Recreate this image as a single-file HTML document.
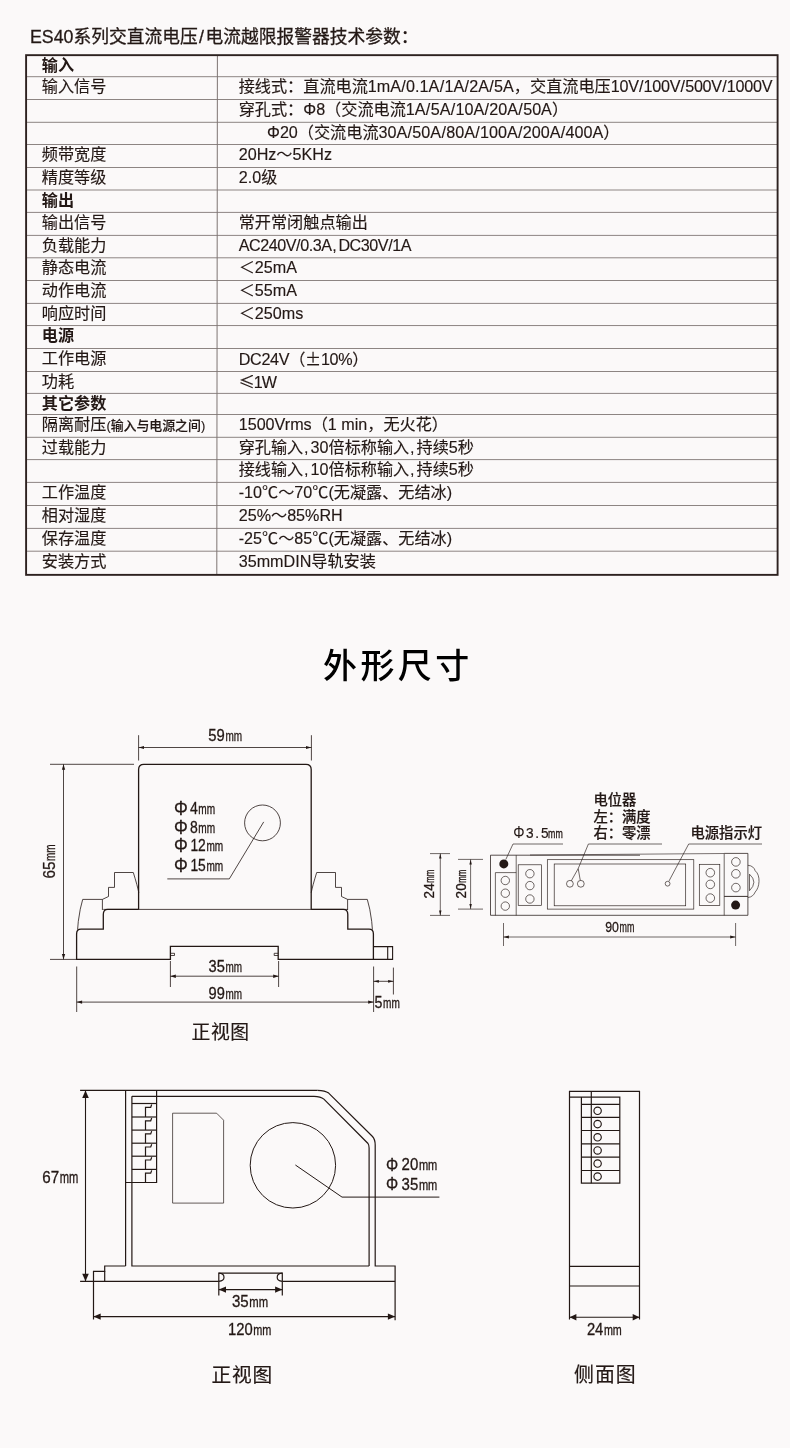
<!DOCTYPE html>
<html lang="zh-CN"><head><meta charset="utf-8"><title>ES40</title>
<style>
html,body{margin:0;padding:0;}
body{width:790px;height:1448px;background:#fbf9f9;position:relative;overflow:hidden;
font-family:"Liberation Sans","Noto Sans CJK SC",sans-serif;color:#231815;}
.cjk{font-family:"Noto Sans CJK SC","Liberation Sans",sans-serif;}
h1{position:absolute;left:30px;top:23.5px;margin:0;font-size:17.75px;font-weight:400;line-height:26px;white-space:nowrap;letter-spacing:0;-webkit-text-stroke:0.3px #231815}
.row{position:absolute;left:0;width:790px;height:22.6px;line-height:23px;font-size:16.15px;white-space:nowrap;-webkit-text-stroke:0.15px #231815}
.row.b{font-weight:700;-webkit-text-stroke:0}
.row .l{position:absolute;left:41.8px;top:1px}
.row .r{position:absolute;left:238.7px;top:1px}
.row i{font-style:normal;margin:0 0.3px}
.row u{text-decoration:none;margin:0 2px 0 0.8px}
.row .r.ind{left:267px}
.row small{font-size:12.9px;font-weight:500;letter-spacing:0;font-family:"Liberation Sans","Noto Sans CJK SC",sans-serif}
h2{position:absolute;left:323.4px;top:640.5px;margin:0;white-space:nowrap;font-size:34px;font-weight:500;line-height:50px;letter-spacing:3.4px;color:#000}
svg{position:absolute;left:0;top:0}
.row,h1,h2,svg{will-change:transform}
</style></head><body>
<h1>ES40系列交直流电压<span style="margin:0 1.6px 0 1.4px">/</span>电流越限报警器技术参数：</h1>
<div class="row b" style="top:52.66px"><span class="l">输入</span><span class="r"></span></div>
<div class="row" style="top:74.20px"><span class="l">输入信号</span><span class="r">接线式：直流电流1mA<i>/</i>0.1A<i>/</i>1A<i>/</i>2A<i>/</i>5A，交直流电压<span style="letter-spacing:-0.24px">10V<i>/</i>100V<i>/</i>500V<i>/</i>1000V</span></span></div>
<div class="row" style="top:97.00px"><span class="l"></span><span class="r">穿孔式：Φ8（交流电流1A<i>/</i>5A<i>/</i>10A<i>/</i>20A<i>/</i>50A）</span></div>
<div class="row" style="top:119.80px"><span class="l"></span><span class="r ind">Φ20（交流电流30A<i>/</i>50A<i>/</i>80A<i>/</i>100A<i>/</i>200A<i>/</i>400A）</span></div>
<div class="row" style="top:142.00px"><span class="l">频带宽度</span><span class="r">20Hz～5KHz</span></div>
<div class="row" style="top:165.00px"><span class="l">精度等级</span><span class="r">2.0级</span></div>
<div class="row b" style="top:187.50px"><span class="l">输出</span><span class="r"></span></div>
<div class="row" style="top:209.90px"><span class="l">输出信号</span><span class="r">常开常闭触点输出</span></div>
<div class="row" style="top:232.90px"><span class="l">负载能力</span><span class="r"><span style="letter-spacing:-0.45px">AC240V/0.3A<u>,</u>DC30V/1A</span></span></div>
<div class="row" style="top:255.30px"><span class="l">静态电流</span><span class="r">＜25mA</span></div>
<div class="row" style="top:278.00px"><span class="l">动作电流</span><span class="r">＜55mA</span></div>
<div class="row" style="top:300.90px"><span class="l">响应时间</span><span class="r">＜250ms</span></div>
<div class="row b" style="top:323.05px"><span class="l">电源</span><span class="r"></span></div>
<div class="row" style="top:346.00px"><span class="l">工作电源</span><span class="r"><span style="letter-spacing:-0.3px">DC24V（<span class="cjk">±</span>10%）</span></span></div>
<div class="row" style="top:369.00px"><span class="l">功耗</span><span class="r"><span style="letter-spacing:-1px"><span class="cjk">≤</span>1W</span></span></div>
<div class="row b" style="top:390.90px"><span class="l">其它参数</span><span class="r"></span></div>
<div class="row" style="top:412.00px"><span class="l">隔离耐压<small>(输入与电源之间)</small></span><span class="r">1500Vrms（1 min，无火花）</span></div>
<div class="row" style="top:434.80px"><span class="l">过载能力</span><span class="r">穿孔输入<u>,</u>30倍标称输入<u>,</u>持续5秒</span></div>
<div class="row" style="top:457.10px"><span class="l"></span><span class="r">接线输入<u>,</u>10倍标称输入<u>,</u>持续5秒</span></div>
<div class="row" style="top:479.90px"><span class="l">工作温度</span><span class="r">-10℃～70℃(无凝露、无结冰)</span></div>
<div class="row" style="top:503.00px"><span class="l">相对湿度</span><span class="r">25%～85%RH</span></div>
<div class="row" style="top:525.90px"><span class="l">保存温度</span><span class="r">-25℃～85℃(无凝露、无结冰)</span></div>
<div class="row" style="top:548.70px"><span class="l">安装方式</span><span class="r">35mmDIN导轨安装</span></div>
<svg class="tbl" width="790" height="600" viewBox="0 0 790 600"><g stroke="#8d8583" stroke-width="1" fill="none"><path d="M27,76.70 H777"/><path d="M27,99.50 H777"/><path d="M27,122.30 H777"/><path d="M27,144.50 H777"/><path d="M27,167.50 H777"/><path d="M27,190.00 H777"/><path d="M27,212.40 H777"/><path d="M27,235.40 H777"/><path d="M27,257.80 H777"/><path d="M27,280.50 H777"/><path d="M27,303.40 H777"/><path d="M27,325.55 H777"/><path d="M27,348.50 H777"/><path d="M27,371.50 H777"/><path d="M27,393.40 H777"/><path d="M27,414.50 H777"/><path d="M27,437.30 H777"/><path d="M27,459.60 H777"/><path d="M27,482.40 H777"/><path d="M27,505.50 H777"/><path d="M27,528.40 H777"/><path d="M27,551.20 H777"/><path d="M217.4,56 L216.8,574" stroke="#7d7472"/></g><rect x="26.1" y="55.16" width="751.5" height="519.7" fill="none" stroke="#2d2220" stroke-width="1.9"/></svg>

<h2>外形尺寸</h2>
<svg width="790" height="1448" viewBox="0 0 790 1448" font-family="Liberation Sans, sans-serif" fill="#231815" stroke-linejoin="miter">
<path d="M138.6,909.4 L138.6,769.5 Q138.6,764.3 143.8,764.3 L306.0,764.3 Q311.2,764.3 311.2,769.5 L311.2,909.4" fill="none" stroke="#231815" stroke-width="1.3"/>
<path d="M138.6,909.4 L107.8,909.4 Q103.3,909.4 103.3,914.5 L103.3,929.2 L81,929.2 Q76.6,929.2 76.6,934 L76.6,959.4 L170.4,959.4 L170.4,946.3 L278.2,946.3 L278.2,959.4 L373.4,959.4 L373.4,934 Q373.4,929.2 369,929.2 L347.8,929.2 L347.8,914.5 Q347.8,909.4 343.2,909.4 L311.2,909.4" fill="none" stroke="#231815" stroke-width="1.3"/>
<path d="M103.3,909.4 L347.8,909.4" fill="none" stroke="#231815" stroke-width="0.8" />
<path d="M170.4,953.3 L174.5,953.3 L174.5,955.5 L170.4,955.5" fill="none" stroke="#231815" stroke-width="0.8" />
<path d="M278.2,953.3 L274.2,953.3 L274.2,955.5 L278.2,955.5" fill="none" stroke="#231815" stroke-width="0.8" />
<path d="M311.2,892.7 Q312.5,886 316.7,872.5 L335.5,872.5 L335.5,887.4 L341.5,887.4 L341.5,896.5 L347.6,899.4 L367.3,899.4 Q370.0,908 371.7,921.3 L372.4,929.6" fill="none" stroke="#231815" stroke-width="0.8"/>
<path d="M347.6,899.4 L347.6,910.0" fill="none" stroke="#231815" stroke-width="0.8" />
<path d="M138.8,892.7 Q137.5,886 133.3,872.5 L114.5,872.5 L114.5,887.4 L108.5,887.4 L108.5,896.5 L102.4,899.4 L82.7,899.4 Q80.0,908 78.3,921.3 L77.6,929.6" fill="none" stroke="#231815" stroke-width="0.8"/>
<path d="M102.4,899.4 L102.4,910.0" fill="none" stroke="#231815" stroke-width="0.8" />
<path d="M373.4,946.6 L392.6,946.6 L392.6,959.4 L373.4,959.4" fill="none" stroke="#231815" stroke-width="1.1" />
<path d="M387.7,946.6 L387.7,959.4" fill="none" stroke="#231815" stroke-width="1.1" />
<circle cx="262.5" cy="822.9" r="17.9" fill="none" stroke="#231815" stroke-width="0.8"/>
<path d="M167.3,878.9 L229.3,878.9 L263.7,821.9" fill="none" stroke="#231815" stroke-width="0.8" />
<path d="M138.6,735.2 L138.6,760.5" fill="none" stroke="#231815" stroke-width="0.8" />
<path d="M311.4,735.2 L311.4,760.5" fill="none" stroke="#231815" stroke-width="0.8" />
<path d="M138.6,747.5 L311.4,747.5" fill="none" stroke="#231815" stroke-width="0.8" />
<path d="M138.6,747.5 L144.0,745.9 L144.0,749.1 Z" fill="#231815"/>
<path d="M311.4,747.5 L306.0,749.1 L306.0,745.9 Z" fill="#231815"/>
<path d="M50.0,764.3 L134.0,764.3" fill="none" stroke="#231815" stroke-width="0.8" />
<path d="M50.0,959.4 L76.0,959.4" fill="none" stroke="#231815" stroke-width="0.8" />
<path d="M63.5,764.3 L63.5,959.4" fill="none" stroke="#231815" stroke-width="0.8" />
<path d="M63.5,764.3 L65.2,769.7 L61.9,769.7 Z" fill="#231815"/>
<path d="M63.5,959.4 L61.9,954.0 L65.2,954.0 Z" fill="#231815"/>
<path d="M170.4,961.0 L170.4,987.0" fill="none" stroke="#231815" stroke-width="0.8" />
<path d="M278.6,961.0 L278.6,987.0" fill="none" stroke="#231815" stroke-width="0.8" />
<path d="M170.4,976.2 L278.6,976.2" fill="none" stroke="#231815" stroke-width="0.8" />
<path d="M170.4,976.2 L175.8,974.6 L175.8,977.9 Z" fill="#231815"/>
<path d="M278.6,976.2 L273.2,977.9 L273.2,974.6 Z" fill="#231815"/>
<path d="M76.7,966.5 L76.7,1012.0" fill="none" stroke="#231815" stroke-width="0.8" />
<path d="M373.6,966.5 L373.6,1012.0" fill="none" stroke="#231815" stroke-width="0.8" />
<path d="M76.7,1002.1 L373.6,1002.1" fill="none" stroke="#231815" stroke-width="0.8" />
<path d="M76.7,1002.1 L82.1,1000.5 L82.1,1003.8 Z" fill="#231815"/>
<path d="M373.6,1002.1 L368.2,1003.8 L368.2,1000.5 Z" fill="#231815"/>
<path d="M393.4,967.6 L393.4,994.5" fill="none" stroke="#231815" stroke-width="0.8" />
<path d="M373.6,981.3 L393.4,981.3" fill="none" stroke="#231815" stroke-width="0.8" />
<path d="M373.6,981.3 L378.9,979.9 L378.9,982.7 Z" fill="#231815"/>
<path d="M393.4,981.3 L388.1,982.7 L388.1,979.9 Z" fill="#231815"/>
<text font-size="16.2" transform="translate(208.3 740.8) scale(0.916 1)" stroke="#231815" stroke-width="0.3">59</text>
<text font-size="15.39" transform="translate(225.4 740.8) scale(0.651 1)" stroke="#231815" stroke-width="0.35">mm</text>
<text font-size="16.3" transform="translate(54.7 878.6) rotate(-90) scale(0.938 1)" stroke="#231815" stroke-width="0.3">65</text>
<text font-size="15.48" transform="translate(54.7 861.0) rotate(-90) scale(0.644 1)" stroke="#231815" stroke-width="0.35">mm</text>
<text font-size="19.8" transform="translate(174.0 814.7) scale(0.874 1)" stroke="#231815" stroke-width="0.3">Φ</text>
<text font-size="17" transform="translate(189.9 813.7) scale(0.825 1)" stroke="#231815" stroke-width="0.3">4</text>
<text font-size="15" transform="translate(198.3 813.7) scale(0.672 1)" stroke="#231815" stroke-width="0.35">mm</text>
<text font-size="19.8" transform="translate(174.0 833.8) scale(0.874 1)" stroke="#231815" stroke-width="0.3">Φ</text>
<text font-size="17" transform="translate(189.9 832.8) scale(0.825 1)" stroke="#231815" stroke-width="0.3">8</text>
<text font-size="15" transform="translate(198.3 832.8) scale(0.672 1)" stroke="#231815" stroke-width="0.35">mm</text>
<text font-size="19.8" transform="translate(174.0 852.4) scale(0.874 1)" stroke="#231815" stroke-width="0.3">Φ</text>
<text font-size="17" transform="translate(190.4 851.4) scale(0.814 1)" stroke="#231815" stroke-width="0.3">12</text>
<text font-size="15" transform="translate(206.4 851.4) scale(0.672 1)" stroke="#231815" stroke-width="0.35">mm</text>
<text font-size="19.8" transform="translate(174.0 871.6) scale(0.874 1)" stroke="#231815" stroke-width="0.3">Φ</text>
<text font-size="17" transform="translate(190.4 870.6) scale(0.814 1)" stroke="#231815" stroke-width="0.3">15</text>
<text font-size="15" transform="translate(206.4 870.6) scale(0.672 1)" stroke="#231815" stroke-width="0.35">mm</text>
<text font-size="16.2" transform="translate(208.6 971.8) scale(0.905 1)" stroke="#231815" stroke-width="0.3">35</text>
<text font-size="15.39" transform="translate(225.5 971.8) scale(0.647 1)" stroke="#231815" stroke-width="0.35">mm</text>
<text font-size="16.2" transform="translate(208.6 998.6) scale(0.905 1)" stroke="#231815" stroke-width="0.3">99</text>
<text font-size="15.39" transform="translate(225.5 998.6) scale(0.647 1)" stroke="#231815" stroke-width="0.35">mm</text>
<text font-size="16.0" transform="translate(374.6 1007.8) scale(0.888 1)" stroke="#231815" stroke-width="0.3">5</text>
<text font-size="15.2" transform="translate(383.1 1007.8) scale(0.663 1)" stroke="#231815" stroke-width="0.35">mm</text>
<text font-size="18.8" x="191.6" y="1039.3" class="cjk" stroke="#231815" stroke-width="0.2" letter-spacing="0.6">正视图</text>
<path d="M640.0,855.2 L490.5,855.2 L490.5,915.3 L747.9,915.3 L747.9,853.4 L724.2,853.4" fill="none" stroke="#231815" stroke-width="0.75" />
<path d="M530.0,855.0 L724.2,853.5" fill="none" stroke="#231815" stroke-width="0.6" />
<path d="M495.4,915.4 L495.4,872.6 L516.2,872.6" fill="none" stroke="#231815" stroke-width="0.65" />
<path d="M516.2,855.2 L516.2,915.4" fill="none" stroke="#231815" stroke-width="0.65" />
<circle cx="505.3" cy="880.5" r="4.2" fill="none" stroke="#231815" stroke-width="0.65"/>
<circle cx="505.3" cy="893.2" r="4.2" fill="none" stroke="#231815" stroke-width="0.65"/>
<circle cx="505.3" cy="906.1" r="4.2" fill="none" stroke="#231815" stroke-width="0.65"/>
<circle cx="503.8" cy="863.9" r="4.5" fill="#231815" stroke="none" stroke-width="1.0"/>
<rect x="518.2" y="864.8" width="23.3" height="40.5" rx="0" fill="none" stroke="#231815" stroke-width="0.65"/>
<circle cx="529.9" cy="873.7" r="4.2" fill="none" stroke="#231815" stroke-width="0.65"/>
<circle cx="529.9" cy="885.6" r="4.2" fill="none" stroke="#231815" stroke-width="0.65"/>
<circle cx="529.9" cy="899.0" r="4.2" fill="none" stroke="#231815" stroke-width="0.65"/>
<rect x="547.3" y="859.7" width="146.5" height="49.4" rx="0" fill="none" stroke="#231815" stroke-width="0.65"/>
<rect x="554.2" y="864.0" width="131.5" height="41.8" rx="0" fill="none" stroke="#231815" stroke-width="0.65"/>
<circle cx="569.9" cy="883.8" r="3.4" fill="none" stroke="#231815" stroke-width="0.65"/>
<circle cx="580.8" cy="883.8" r="3.4" fill="none" stroke="#231815" stroke-width="0.65"/>
<path d="M662.0,844.0 L588.4,844.0 L578.2,868.6 L571.3,880.8" fill="none" stroke="#231815" stroke-width="0.65" />
<path d="M578.2,868.6 L580.3,880.5" fill="none" stroke="#231815" stroke-width="0.65" />
<circle cx="667.6" cy="883.7" r="2.4" fill="none" stroke="#231815" stroke-width="0.65"/>
<path d="M762.0,844.0 L688.7,844.0 L669.0,881.0" fill="none" stroke="#231815" stroke-width="0.65" />
<rect x="699.3" y="864.3" width="20.5" height="41.2" rx="0" fill="none" stroke="#231815" stroke-width="0.65"/>
<circle cx="710.3" cy="872.7" r="4.3" fill="none" stroke="#231815" stroke-width="0.65"/>
<circle cx="710.3" cy="884.4" r="4.3" fill="none" stroke="#231815" stroke-width="0.65"/>
<circle cx="710.3" cy="898.1" r="4.3" fill="none" stroke="#231815" stroke-width="0.65"/>
<path d="M724.2,853.6 L724.2,915.4" fill="none" stroke="#231815" stroke-width="0.65" />
<path d="M724.2,896.4 L747.9,896.4" fill="none" stroke="#231815" stroke-width="0.9" />
<circle cx="735.9" cy="861.9" r="4.3" fill="none" stroke="#231815" stroke-width="0.65"/>
<circle cx="735.9" cy="873.8" r="4.3" fill="none" stroke="#231815" stroke-width="0.65"/>
<circle cx="735.9" cy="887.6" r="4.3" fill="none" stroke="#231815" stroke-width="0.65"/>
<circle cx="735.6" cy="905.1" r="4.5" fill="#231815" stroke="none" stroke-width="1.0"/>
<path d="M747.9,865.3 C752,865.5 754.5,868 755.2,870.8 C758,873 759.2,877 759,881.5 C758.8,886 757.5,889.5 755.2,892 C754,895 751.5,897.3 747.9,897.5" fill="none" stroke="#231815" stroke-width="0.65"/>
<path d="M749.5,874.2 Q753.8,878 753.9,882.2 Q753.8,886.5 749.5,890.7 Z" fill="none" stroke="#231815" stroke-width="0.65"/>
<path d="M563.0,844.0 L513.0,844.0 L505.8,859.5" fill="none" stroke="#231815" stroke-width="0.65" />
<path d="M430.0,853.6 L450.0,853.6" fill="none" stroke="#231815" stroke-width="0.65" />
<path d="M430.0,915.4 L450.0,915.4" fill="none" stroke="#231815" stroke-width="0.65" />
<path d="M440.3,853.6 L440.3,915.4" fill="none" stroke="#231815" stroke-width="0.65" />
<path d="M440.3,853.6 L441.5,858.6 L439.1,858.6 Z" fill="#231815"/>
<path d="M440.3,915.4 L439.1,910.4 L441.5,910.4 Z" fill="#231815"/>
<path d="M458.0,859.4 L483.0,859.4" fill="none" stroke="#231815" stroke-width="0.65" />
<path d="M458.0,909.1 L483.0,909.1" fill="none" stroke="#231815" stroke-width="0.65" />
<path d="M470.6,859.4 L470.6,909.1" fill="none" stroke="#231815" stroke-width="0.65" />
<path d="M470.6,859.4 L471.8,864.4 L469.4,864.4 Z" fill="#231815"/>
<path d="M470.6,909.1 L469.4,904.1 L471.8,904.1 Z" fill="#231815"/>
<path d="M503.5,923.0 L503.5,946.0" fill="none" stroke="#231815" stroke-width="0.65" />
<path d="M735.6,923.0 L735.6,946.0" fill="none" stroke="#231815" stroke-width="0.65" />
<path d="M503.5,937.0 L735.6,937.0" fill="none" stroke="#231815" stroke-width="0.65" />
<path d="M503.5,937.0 L508.9,935.4 L508.9,938.6 Z" fill="#231815"/>
<path d="M735.6,937.0 L730.2,938.6 L730.2,935.4 Z" fill="#231815"/>
<text font-size="16.2" transform="translate(513.2 838.4) scale(0.874 1)">Φ</text>
<text transform="translate(526.1 837.8) scale(0.9 1)" font-size="15.2" stroke="#231815" stroke-width="0.2">3<tspan dx="1.6">.</tspan><tspan dx="2.2">5</tspan></text>
<text font-size="13.6" transform="translate(548.1 837.8) scale(0.649 1)" stroke="#231815" stroke-width="0.35">mm</text>
<text font-size="14.3" x="593.4" y="805.3" font-weight="500" class="cjk" stroke="#231815" stroke-width="0.2">电位器</text>
<text font-size="14.3" x="593.4" y="822.2" font-weight="500" class="cjk" stroke="#231815" stroke-width="0.2">左：满度</text>
<text font-size="14.3" x="593.4" y="838.2" font-weight="500" class="cjk" stroke="#231815" stroke-width="0.2">右：零漂</text>
<text font-size="14.3" x="690.5" y="838.2" font-weight="500" class="cjk" stroke="#231815" stroke-width="0.2">电源指示灯</text>
<text font-size="14.1" transform="translate(433.7 898.4) rotate(-90) scale(0.963 1)" stroke="#231815" stroke-width="0.3">24</text>
<text font-size="13.39" transform="translate(433.7 882.7) rotate(-90) scale(0.587 1)" stroke="#231815" stroke-width="0.35">mm</text>
<text font-size="14.3" transform="translate(466.1 898.4) rotate(-90) scale(0.949 1)" stroke="#231815" stroke-width="0.3">20</text>
<text font-size="13.59" transform="translate(466.1 882.7) rotate(-90) scale(0.579 1)" stroke="#231815" stroke-width="0.35">mm</text>
<text font-size="15.3" transform="translate(605.2 931.9) scale(0.805 1)" stroke="#231815" stroke-width="0.3">90</text>
<text font-size="14" transform="translate(619.5 931.9) scale(0.635 1)" stroke="#231815" stroke-width="0.35">mm</text>
<path d="M80.1,1090.3 L317.6,1090.3" fill="none" stroke="#231815" stroke-width="1.2" />
<path d="M317.6,1090.3 Q325,1090.3 328.7,1093.1 L372.5,1136.5 Q375.2,1139.5 375.2,1145 L375.2,1266 L395.1,1266 L395.1,1320.2" fill="none" stroke="#231815" stroke-width="1.2"/>
<path d="M131.9,1096.3 L314,1096.3 Q320.5,1096.3 323.9,1099.1 L368,1143.5 Q369.1,1145 369.1,1148 L369.1,1266" fill="none" stroke="#231815" stroke-width="1.2"/>
<path d="M125.6,1090.3 L125.6,1266.0" fill="none" stroke="#231815" stroke-width="1.2" />
<path d="M131.9,1096.3 L131.9,1266.0 L369.1,1266.0" fill="none" stroke="#231815" stroke-width="1.2" />
<path d="M125.6,1266.0 L104.7,1266.0 L104.7,1271.3 L93.5,1271.3 L93.5,1319.5" fill="none" stroke="#231815" stroke-width="1.2" />
<path d="M104.7,1271.3 L104.7,1281.3" fill="none" stroke="#231815" stroke-width="1.2" />
<path d="M80.1,1281.3 L218.8,1281.3" fill="none" stroke="#231815" stroke-width="1.2" />
<path d="M282.3,1281.3 L395.1,1281.3" fill="none" stroke="#231815" stroke-width="1.2" />
<path d="M156.6,1090.3 L156.6,1182.5 L125.6,1182.5" fill="none" stroke="#231815" stroke-width="1.2" />
<path d="M131.9,1103.5 L156.6,1103.5" fill="none" stroke="#231815" stroke-width="1.2" />
<path d="M145.5,1117.0 L145.5,1107.3 L150.7,1107.3 L151.7,1104.5" fill="none" stroke="#231815" stroke-width="1.2" />
<path d="M131.9,1117.0 L156.6,1117.0" fill="none" stroke="#231815" stroke-width="1.2" />
<path d="M145.5,1130.1 L145.5,1120.8 L150.7,1120.8 L151.7,1118.0" fill="none" stroke="#231815" stroke-width="1.2" />
<path d="M131.9,1130.1 L156.6,1130.1" fill="none" stroke="#231815" stroke-width="1.2" />
<path d="M145.5,1143.2 L145.5,1133.9 L150.7,1133.9 L151.7,1131.1" fill="none" stroke="#231815" stroke-width="1.2" />
<path d="M131.9,1143.2 L156.6,1143.2" fill="none" stroke="#231815" stroke-width="1.2" />
<path d="M145.5,1156.2 L145.5,1147.0 L150.7,1147.0 L151.7,1144.2" fill="none" stroke="#231815" stroke-width="1.2" />
<path d="M131.9,1156.2 L156.6,1156.2" fill="none" stroke="#231815" stroke-width="1.2" />
<path d="M145.5,1169.4 L145.5,1160.0 L150.7,1160.0 L151.7,1157.2" fill="none" stroke="#231815" stroke-width="1.2" />
<path d="M131.9,1169.4 L156.6,1169.4" fill="none" stroke="#231815" stroke-width="1.2" />
<path d="M145.5,1182.5 L145.5,1173.2 L150.7,1173.2 L151.7,1170.4" fill="none" stroke="#231815" stroke-width="1.2" />
<path d="M172.6,1113.2 L216.6,1113.2 L223.6,1120.2 L223.6,1203.1 L172.6,1203.1 Z" fill="none" stroke="#231815" stroke-width="0.7" />
<circle cx="292.9" cy="1165.3" r="42.7" fill="none" stroke="#231815" stroke-width="1.0"/>
<path d="M295.4,1165.0 L342.0,1197.1 L439.4,1197.1" fill="none" stroke="#231815" stroke-width="1.0" />
<path d="M218.8,1281.3 L218.8,1273.2 L282.3,1273.2 L282.3,1281.3" fill="none" stroke="#231815" stroke-width="1.2" />
<path d="M218.8,1273.2 Q224,1273.5 224,1277.3 Q224,1281 218.8,1281.3" fill="none" stroke="#231815" stroke-width="1.2"/>
<path d="M282.3,1273.2 Q277.2,1273.5 277.2,1277.3 Q277.2,1281 282.3,1281.3" fill="none" stroke="#231815" stroke-width="1.2"/>
<path d="M85.5,1090.5 L85.5,1281.3" fill="none" stroke="#231815" stroke-width="1.1" />
<path d="M85.5,1090.5 L88.8,1098.0 L82.2,1098.0 Z" fill="#231815"/>
<path d="M85.5,1281.3 L82.2,1273.8 L88.8,1273.8 Z" fill="#231815"/>
<path d="M218.8,1281.3 L218.8,1295.5" fill="none" stroke="#231815" stroke-width="1.2" />
<path d="M282.3,1281.3 L282.3,1295.5" fill="none" stroke="#231815" stroke-width="1.2" />
<path d="M218.8,1289.6 L282.3,1289.6" fill="none" stroke="#231815" stroke-width="1.1" />
<path d="M218.8,1289.6 L226.0,1286.4 L226.0,1292.8 Z" fill="#231815"/>
<path d="M282.3,1289.6 L275.1,1292.8 L275.1,1286.4 Z" fill="#231815"/>
<path d="M93.5,1316.6 L395.1,1316.6" fill="none" stroke="#231815" stroke-width="1.1" />
<path d="M93.5,1316.6 L100.7,1313.4 L100.7,1319.8 Z" fill="#231815"/>
<path d="M395.1,1316.6 L387.9,1319.8 L387.9,1313.4 Z" fill="#231815"/>
<text font-size="17.3" transform="translate(42.3 1182.8) scale(0.878 1)" stroke="#231815" stroke-width="0.3">67</text>
<text font-size="16.43" transform="translate(59.8 1182.8) scale(0.680 1)" stroke="#231815" stroke-width="0.35">mm</text>
<text font-size="17.6" transform="translate(385.9 1170.9) scale(0.869 1)" stroke="#231815" stroke-width="0.3">Φ</text>
<text font-size="16" transform="translate(401.6 1170.3) scale(0.938 1)" stroke="#231815" stroke-width="0.3">20</text>
<text font-size="15.2" transform="translate(418.9 1170.3) scale(0.727 1)" stroke="#231815" stroke-width="0.35">mm</text>
<text font-size="17.6" transform="translate(385.9 1190.3) scale(0.869 1)" stroke="#231815" stroke-width="0.3">Φ</text>
<text font-size="16" transform="translate(401.6 1189.7) scale(0.938 1)" stroke="#231815" stroke-width="0.3">35</text>
<text font-size="15.2" transform="translate(418.9 1189.7) scale(0.727 1)" stroke="#231815" stroke-width="0.35">mm</text>
<text font-size="16" transform="translate(231.9 1307.1) scale(0.944 1)" stroke="#231815" stroke-width="0.3">35</text>
<text font-size="15.2" transform="translate(249.3 1307.1) scale(0.742 1)" stroke="#231815" stroke-width="0.35">mm</text>
<text font-size="16" transform="translate(228.0 1335.0) scale(0.925 1)" stroke="#231815" stroke-width="0.3">120</text>
<text font-size="15.2" transform="translate(253.3 1335.0) scale(0.715 1)" stroke="#231815" stroke-width="0.35">mm</text>
<text font-size="19.7" x="211.4" y="1382.2" class="cjk" stroke="#231815" stroke-width="0.2" letter-spacing="0.9">正视图</text>
<path d="M569.5,1319.6 L569.5,1091.3 L639.5,1091.3 L639.5,1319.6" fill="none" stroke="#231815" stroke-width="1.2" />
<path d="M569.5,1266.4 L639.5,1266.4" fill="none" stroke="#231815" stroke-width="1.2" />
<path d="M569.5,1286.0 L639.5,1286.0" fill="none" stroke="#231815" stroke-width="1.2" />
<path d="M569.5,1097.1 L619.8,1097.1 L619.8,1183.2 L581.4,1183.2 L581.4,1097.1" fill="none" stroke="#231815" stroke-width="1.2" />
<path d="M591.3,1091.3 L591.3,1183.2" fill="none" stroke="#231815" stroke-width="1.2" />
<path d="M581.4,1104.3 L619.8,1104.3" fill="none" stroke="#231815" stroke-width="1.2" />
<path d="M581.4,1117.4 L619.8,1117.4" fill="none" stroke="#231815" stroke-width="1.2" />
<path d="M581.4,1130.5 L619.8,1130.5" fill="none" stroke="#231815" stroke-width="1.2" />
<path d="M581.4,1143.8 L619.8,1143.8" fill="none" stroke="#231815" stroke-width="1.2" />
<path d="M581.4,1157.2 L619.8,1157.2" fill="none" stroke="#231815" stroke-width="1.2" />
<path d="M581.4,1170.5 L619.8,1170.5" fill="none" stroke="#231815" stroke-width="1.2" />
<circle cx="597.6" cy="1110.8" r="3.7" fill="none" stroke="#231815" stroke-width="1.15"/>
<circle cx="597.6" cy="1124.1" r="3.7" fill="none" stroke="#231815" stroke-width="1.15"/>
<circle cx="597.6" cy="1137.3" r="3.7" fill="none" stroke="#231815" stroke-width="1.15"/>
<circle cx="597.6" cy="1150.4" r="3.7" fill="none" stroke="#231815" stroke-width="1.15"/>
<circle cx="597.6" cy="1163.5" r="3.7" fill="none" stroke="#231815" stroke-width="1.15"/>
<circle cx="597.6" cy="1176.6" r="3.7" fill="none" stroke="#231815" stroke-width="1.15"/>
<path d="M569.6,1317.2 L639.5,1317.2" fill="none" stroke="#231815" stroke-width="1.1" />
<path d="M569.6,1317.2 L576.4,1314.0 L576.4,1320.4 Z" fill="#231815"/>
<path d="M639.5,1317.2 L632.7,1320.4 L632.7,1314.0 Z" fill="#231815"/>
<text font-size="16" transform="translate(586.9 1335.3) scale(0.922 1)" stroke="#231815" stroke-width="0.3">24</text>
<text font-size="15.2" transform="translate(603.9 1335.3) scale(0.707 1)" stroke="#231815" stroke-width="0.35">mm</text>
<text font-size="19.9" x="574.1" y="1382.0" class="cjk" stroke="#231815" stroke-width="0.2" letter-spacing="1.0">侧面图</text>
</svg>
</body></html>
